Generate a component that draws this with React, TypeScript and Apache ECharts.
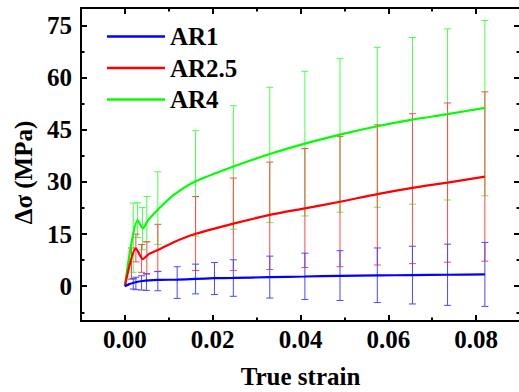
import React, { useEffect, useRef } from "react";
import * as echarts from "echarts";

// ---- data ----
const seriesNames = ["AR1", "AR2.5", "AR4"];

const ar1X = [0, 0.001, 0.002, 0.004, 0.0075, 0.012, 0.016, 0.0204, 0.0247, 0.033, 0.041, 0.049, 0.0575, 0.0655, 0.0735, 0.082];
const ar1Y = [0, 0.6, 1.0, 1.5, 1.8, 1.9, 2.1, 2.3, 2.4, 2.6, 2.8, 3.0, 3.1, 3.2, 3.3, 3.4];

const ar25X = [0, 0.0025, 0.0041, 0.0055, 0.0075, 0.011, 0.016, 0.0247, 0.033, 0.041, 0.049, 0.0575, 0.0655, 0.0735, 0.082];
const ar25Y = [0, 10.9, 7.8, 9.3, 10.4, 12.6, 15.0, 18.0, 20.5, 22.4, 24.3, 26.5, 28.3, 29.8, 31.5];

const ar4X = [0, 0.0029, 0.0041, 0.0053, 0.0075, 0.011, 0.016, 0.0247, 0.033, 0.041, 0.049, 0.0575, 0.0655, 0.0735, 0.082];
const ar4Y = [0, 19.0, 16.6, 19.0, 22.0, 26.1, 30.1, 34.4, 38.0, 41.0, 43.6, 46.0, 47.9, 49.5, 51.3];

// error bars: x, low, high
const ar1ErrX = [0.0019, 0.0025, 0.0038, 0.0049, 0.0075, 0.0119, 0.0161, 0.0204, 0.0247, 0.033, 0.041, 0.049, 0.0575, 0.0655, 0.0735, 0.082];
const ar1ErrLow = [-0.8, -1.0, -1.1, -1.2, -1.3, -3.5, -2.2, -2.4, -2.9, -3.4, -3.8, -4.1, -4.7, -5.1, -5.5, -5.8];
const ar1ErrHigh = [2.2, 2.6, 3.0, 3.6, 4.2, 5.6, 6.35, 6.8, 7.6, 8.65, 9.5, 10.2, 11.0, 11.5, 12.1, 12.6];

const ar25ErrX = [0.0015, 0.0025, 0.0038, 0.005, 0.0075, 0.0161, 0.0247, 0.033, 0.041, 0.049, 0.0575, 0.0655, 0.0735, 0.082];
const ar25ErrLow = [2.0, 7.0, 4.0, 3.5, 4.3, 4.5, 4.5, 4.8, 5.4, 5.6, 6.1, 6.5, 6.9, 7.2];
const ar25ErrHigh = [11.0, 15.0, 12.0, 12.8, 17.8, 25.8, 31.1, 35.7, 39.6, 43.0, 46.4, 49.6, 52.7, 55.9];

const ar4ErrX = [0.0019, 0.0029, 0.004, 0.005, 0.0075, 0.0161, 0.0247, 0.033, 0.041, 0.049, 0.0575, 0.0655, 0.0735, 0.082];
const ar4ErrLow = [4.0, 14.0, 10.5, 12.7, 12.0, 14.4, 16.4, 18.3, 20.2, 21.3, 22.7, 23.6, 24.8, 26.0];
const ar4ErrHigh = [23.9, 24.0, 22.6, 25.8, 32.9, 44.7, 51.9, 57.2, 61.8, 65.4, 68.7, 71.5, 74.0, 76.4];

const yMajorTicks = [0, 15, 30, 45, 60, 75];
const yMinorTicks = [-7.5, 7.5, 22.5, 37.5, 52.5, 67.5];
const xMajorTicks = [0, 0.02, 0.04, 0.06, 0.08];
const xMinorTicks = [0.01, 0.03, 0.05, 0.07];

const FONT = "'Liberation Serif', 'Times New Roman', Times, serif";

function zip(xs: number[], ys: number[]) {
  return xs.map((x, i) => [x, ys[i]]);
}
function zip3(xs: number[], lo: number[], hi: number[]) {
  return xs.map((x, i) => [x, lo[i], hi[i]]);
}

function errRenderer(color: string) {
  return (_params: any, api: any) => {
    const x = api.value(0);
    const lo = api.value(1);
    const hi = api.value(2);
    const p1 = api.coord([x, hi]);
    const p2 = api.coord([x, lo]);
    const w = 3.5;
    const style = { stroke: color, lineWidth: 1 };
    return {
      type: "group",
      children: [
        { type: "line", shape: { x1: p1[0], y1: p1[1], x2: p2[0], y2: p2[1] }, style },
        { type: "line", shape: { x1: p1[0] - w, y1: p1[1], x2: p1[0] + w, y2: p1[1] }, style },
        { type: "line", shape: { x1: p2[0] - w, y1: p2[1], x2: p2[0] + w, y2: p2[1] }, style },
      ],
    };
  };
}

export default function App() {
  const ref = useRef<HTMLDivElement>(null);
  useEffect(() => {
    if (!ref.current) return;
    const chart = echarts.init(ref.current, undefined, { renderer: "svg" });
    const xRange = { min: -0.01, max: 0.09 };
    const yRange = { min: -10, max: 80 };
    const hidden = { show: false };
    const lineStyleAxis = { color: "#000", width: 2 };
    const labelText = {
      fontFamily: FONT,
      fontWeight: "bold",
      fontSize: 25,
      color: "#000",
    };
    const mkX = (position: string, major: boolean, showLine: boolean, showLabel: boolean) => ({
      type: "value",
      position,
      ...xRange,
      axisLine: { show: showLine, onZero: false, lineStyle: lineStyleAxis },
      axisTick: {
        show: true,
        inside: true,
        length: major ? 6 : 3.5,
        lineStyle: { color: "#000", width: 2 },
        customValues: major ? xMajorTicks : xMinorTicks,
      },
      axisLabel: showLabel
        ? {
            show: true,
            customValues: xMajorTicks,
            formatter: (v: number) => v.toFixed(2),
            ...labelText,
            margin: 6,
          }
        : hidden,
      splitLine: hidden,
    });
    const mkY = (position: string, major: boolean, showLine: boolean, showLabel: boolean) => ({
      type: "value",
      position,
      ...yRange,
      axisLine: { show: showLine, onZero: false, lineStyle: lineStyleAxis },
      axisTick: {
        show: true,
        inside: true,
        length: major ? 6 : 3.5,
        lineStyle: { color: "#000", width: 2 },
        customValues: major ? yMajorTicks : yMinorTicks,
      },
      axisLabel: showLabel
        ? {
            show: true,
            customValues: yMajorTicks,
            formatter: (v: number) => String(v),
            ...labelText,
            margin: 9,
          }
        : hidden,
      splitLine: hidden,
    });

    const xMain: any = mkX("bottom", true, true, true);
    xMain.name = "True strain";
    xMain.nameLocation = "middle";
    xMain.nameGap = 43;
    xMain.nameTextStyle = { ...labelText };
    const yMain: any = mkY("left", true, true, true);
    yMain.name = "Δσ (MPa)";
    yMain.nameLocation = "middle";
    yMain.nameGap = 35;
    yMain.nameTextStyle = { ...labelText, padding: [0, 16, 0, 0] };

    const colors = ["#0000ff", "#ff0000", "#00ff00"];
    const errColors = ["#4848ff", "#ff4848", "#48ff48"];

    const option: any = {
      animation: false,
      backgroundColor: "#fff",
      textStyle: { fontFamily: FONT, fontWeight: "bold", fontSize: 25, color: "#000" },
      grid: { left: 81, right: -1, top: 8, bottom: 71, containLabel: false, outerBoundsMode: "none" },
      xAxis: [
        xMain,
        mkX("bottom", false, false, false),
        mkX("top", true, true, false),
        mkX("top", false, false, false),
      ],
      yAxis: [
        yMain,
        mkY("left", false, false, false),
        mkY("right", true, true, false),
        mkY("right", false, false, false),
      ],
      legend: {
        data: seriesNames,
        orient: "vertical",
        left: 102,
        top: 19,
        icon: "rect",
        itemWidth: 58,
        itemHeight: 2.5,
        itemGap: 6.5,
        textStyle: { ...labelText, lineHeight: 25 },
      },
      series: [
        {
          type: "custom",
          name: "AR4 err",
          renderItem: errRenderer(errColors[2]),
          data: zip3(ar4ErrX, ar4ErrLow, ar4ErrHigh),
          encode: { x: 0, y: [1, 2] },
          z: 1,
        },
        {
          type: "custom",
          name: "AR2.5 err",
          renderItem: errRenderer(errColors[1]),
          data: zip3(ar25ErrX, ar25ErrLow, ar25ErrHigh),
          encode: { x: 0, y: [1, 2] },
          z: 2,
        },
        {
          type: "custom",
          name: "AR1 err",
          renderItem: errRenderer(errColors[0]),
          data: zip3(ar1ErrX, ar1ErrLow, ar1ErrHigh),
          encode: { x: 0, y: [1, 2] },
          z: 3,
        },
        {
          type: "line",
          name: "AR4",
          data: zip(ar4X, ar4Y),
          symbol: "none",
          showSymbol: false,
          smooth: 0.25,
          color: colors[2],
          lineStyle: { color: colors[2], width: 2.2 },
          z: 4,
        },
        {
          type: "line",
          name: "AR2.5",
          data: zip(ar25X, ar25Y),
          symbol: "none",
          showSymbol: false,
          smooth: 0.25,
          color: colors[1],
          lineStyle: { color: colors[1], width: 2.2 },
          z: 5,
        },
        {
          type: "line",
          name: "AR1",
          data: zip(ar1X, ar1Y),
          symbol: "none",
          showSymbol: false,
          smooth: 0.25,
          color: colors[0],
          lineStyle: { color: colors[0], width: 2.2 },
          z: 6,
        },
      ],
    };
    chart.setOption(option);
    return () => chart.dispose();
  }, []);
  return (
    <div
      ref={ref}
      style={{ position: "fixed", left: 0, top: 0, width: 519, height: 392, background: "#fff" }}
    />
  );
}
